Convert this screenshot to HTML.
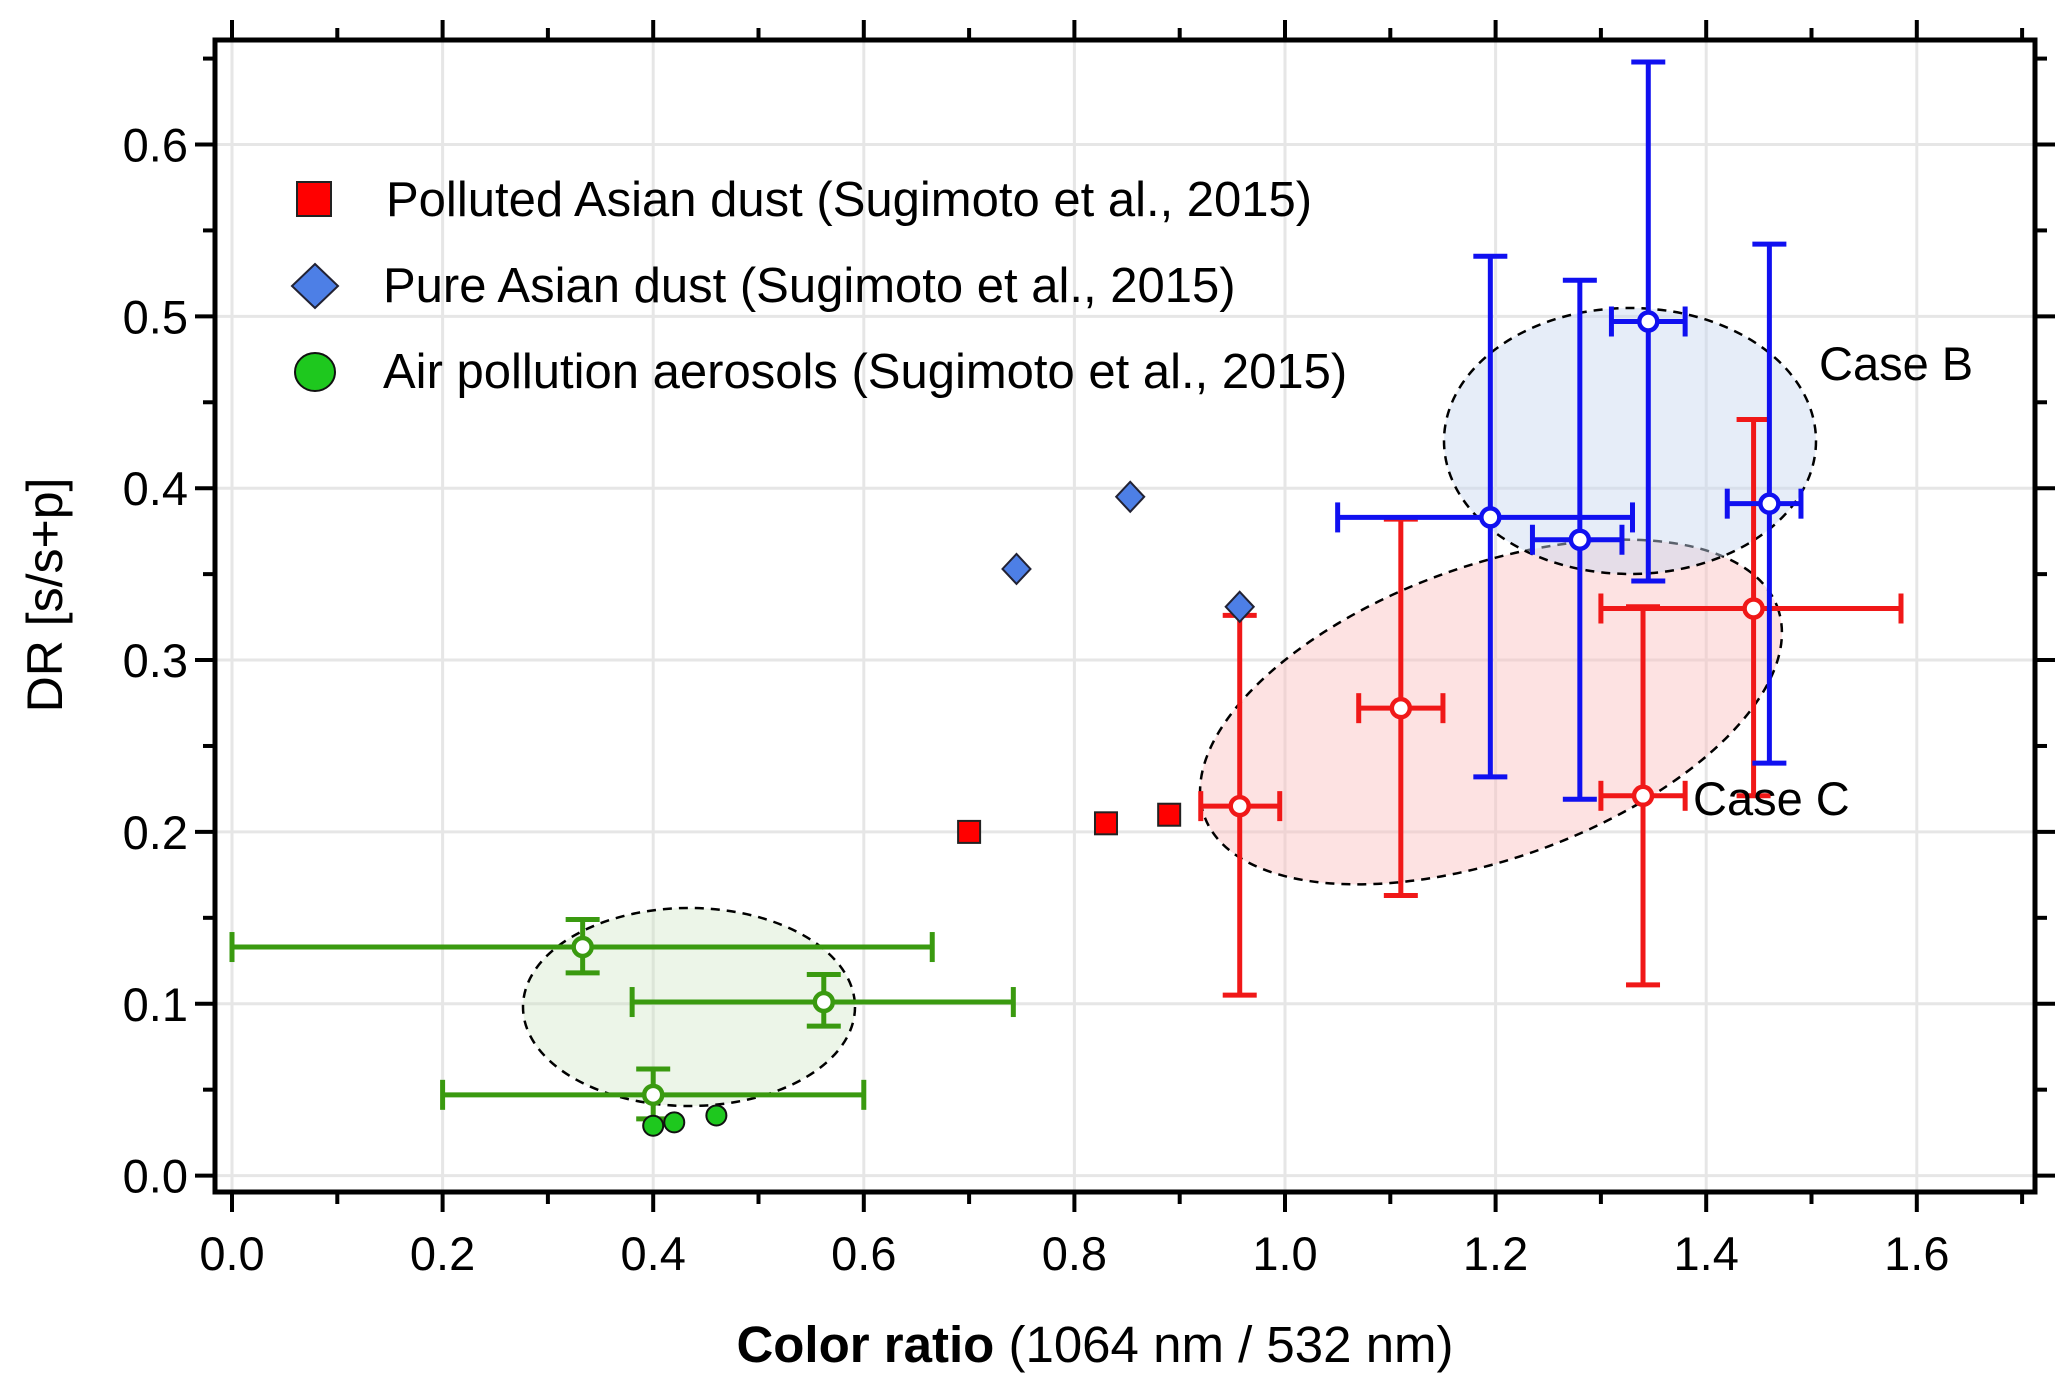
<!DOCTYPE html>
<html><head><meta charset="utf-8"><style>
html,body{margin:0;padding:0;background:#fff;}
svg{display:block;font-family:"Liberation Sans",Arial,sans-serif;}
</style></head><body>
<svg id="chart" width="2067" height="1385" viewBox="0 0 2067 1385" xmlns="http://www.w3.org/2000/svg"></svg>
<script>
const xTicks=[0.0,0.2,0.4,0.6,0.8,1.0,1.2,1.4,1.6];
const yTicks=[0.0,0.1,0.2,0.3,0.4,0.5,0.6];
const squaresX=[0.70,0.83,0.89];
const squaresY=[0.20,0.205,0.21];
const diamondsX=[0.745,0.853,0.957];
const diamondsY=[0.353,0.395,0.331];
const dotsX=[0.40,0.42,0.46];
const dotsY=[0.029,0.031,0.035];
const greenX=[0.333,0.562,0.40];
const greenY=[0.133,0.101,0.047];
const greenXlo=[0.0,0.38,0.20];
const greenXhi=[0.665,0.742,0.60];
const greenYlo=[0.118,0.087,0.033];
const greenYhi=[0.149,0.117,0.062];
const redX=[0.957,1.11,1.34,1.445];
const redY=[0.215,0.272,0.221,0.330];
const redXlo=[0.92,1.07,1.30,1.30];
const redXhi=[0.995,1.15,1.38,1.585];
const redYlo=[0.105,0.163,0.111,0.221];
const redYhi=[0.326,0.382,0.331,0.440];
const blueX=[1.195,1.28,1.345,1.46];
const blueY=[0.383,0.370,0.497,0.391];
const blueXlo=[1.05,1.235,1.31,1.42];
const blueXhi=[1.33,1.32,1.38,1.49];
const blueYlo=[0.232,0.219,0.346,0.240];
const blueYhi=[0.535,0.521,0.648,0.542];

const NS="http://www.w3.org/2000/svg";
const svg=document.getElementById('chart');
const L=215,R=2035,T=40,B=1192;
function sx(v){return 232+v*1053;}
function sy(v){return 1175.6-v*1718.5;}
function el(tag,attrs,parent){const e=document.createElementNS(NS,tag);for(const k in attrs)e.setAttribute(k,attrs[k]);(parent||svg).appendChild(e);return e;}

const grid=el('g',{});


xTicks.forEach(v=>el('line',{x1:sx(v),x2:sx(v),y1:T,y2:B,stroke:'#e6e6e6','stroke-width':3},grid));
yTicks.forEach(v=>el('line',{x1:L,x2:R,y1:sy(v),y2:sy(v),stroke:'#e6e6e6','stroke-width':3},grid));

const ells=[[689,1007,166,99,0,'rgba(200,225,190,0.35)','green-cluster-ellipse'],[1491,712,305,146,-20,'rgba(250,190,190,0.45)','case-c-ellipse'],[1630,441,186,133,0,'rgba(200,215,240,0.45)','case-b-ellipse']];
ells.forEach(e=>{const n=el('ellipse',{cx:e[0],cy:e[1],rx:e[2],ry:e[3],transform:`rotate(${e[4]} ${e[0]} ${e[1]})`,fill:e[5],stroke:'#000','stroke-width':2.5,'stroke-dasharray':'9,7'});

});

const ax=el('g',{});


el('rect',{x:L,y:T,width:R-L,height:B-T,fill:'none',stroke:'#000','stroke-width':5},ax);
for(let i=0;i<=17;i++){const v=i*0.1;const x=sx(v);const len=i%2==0?20:12;
el('line',{x1:x,x2:x,y1:B,y2:B+len,stroke:'#000','stroke-width':4},ax);
el('line',{x1:x,x2:x,y1:T,y2:T-len,stroke:'#000','stroke-width':4},ax);}
for(let i=0;i<=13;i++){const v=i*0.05;const y=sy(v);if(y<T)continue;const len=i%2==0?20:12;
el('line',{x1:L,x2:L-len,y1:y,y2:y,stroke:'#000','stroke-width':4},ax);
el('line',{x1:R,x2:R+len,y1:y,y2:y,stroke:'#000','stroke-width':4},ax);}
xTicks.forEach(v=>{const t=el('text',{x:sx(v),y:1270,'text-anchor':'middle','font-size':47},ax);t.textContent=v.toFixed(1);

});
yTicks.forEach(v=>{const t=el('text',{x:188,y:sy(v)+17,'text-anchor':'end','font-size':47},ax);t.textContent=v.toFixed(1);

});

function errSeries(X,Y,XL,XH,YL,YH,color,name){
const g=el('g',{});


for(let i=0;i<X.length;i++){const x=sx(X[i]),y=sy(Y[i]);
el('line',{x1:sx(XL[i]),x2:sx(XH[i]),y1:y,y2:y,stroke:color,'stroke-width':5},g);
el('line',{x1:x,x2:x,y1:sy(YL[i]),y2:sy(YH[i]),stroke:color,'stroke-width':5},g);
[XL[i],XH[i]].forEach(v=>el('line',{x1:sx(v),x2:sx(v),y1:y-15,y2:y+15,stroke:color,'stroke-width':5},g));
[YL[i],YH[i]].forEach(v=>el('line',{x1:x-17,x2:x+17,y1:sy(v),y2:sy(v),stroke:color,'stroke-width':5},g));
const c=el('circle',{cx:x,cy:y,r:9,fill:'#fff',stroke:color,'stroke-width':4.5},g);

}}
errSeries(greenX,greenY,greenXlo,greenXhi,greenYlo,greenYhi,'#3a9a10','green-series');
errSeries(redX,redY,redXlo,redXhi,redYlo,redYhi,'#f01818','red-series');
errSeries(blueX,blueY,blueXlo,blueXhi,blueYlo,blueYhi,'#1010f0','blue-series');

for(let i=0;i<squaresX.length;i++){const r=el('rect',{x:sx(squaresX[i])-11,y:sy(squaresY[i])-11,width:22,height:22,fill:'#f00',stroke:'#222','stroke-width':2});

}
for(let i=0;i<diamondsX.length;i++){const x=sx(diamondsX[i]),y=sy(diamondsY[i]);const p=el('polygon',{points:`${x},${y-15} ${x+14},${y} ${x},${y+15} ${x-14},${y}`,fill:'#4d7fe6',stroke:'#223','stroke-width':2});

}
for(let i=0;i<dotsX.length;i++){const c=el('circle',{cx:sx(dotsX[i]),cy:sy(dotsY[i]),r:10,fill:'#1ec81e',stroke:'#111','stroke-width':2});

}

const lg=el('g',{});


el('rect',{x:297,y:182,width:34,height:34,fill:'#f00',stroke:'#222','stroke-width':2},lg);
el('polygon',{points:'315,264 338,286 315,308 292,286',fill:'#4d7fe6',stroke:'#223','stroke-width':2},lg);
el('ellipse',{cx:315,cy:372,rx:20,ry:19,fill:'#1ec81e',stroke:'#111','stroke-width':2},lg);
[['Polluted Asian dust (Sugimoto et al., 2015)',386,216],['Pure Asian dust (Sugimoto et al., 2015)',383,302],['Air pollution aerosols (Sugimoto et al., 2015)',383,388]].forEach(a=>{const t=el('text',{x:a[1],y:a[2],'font-size':49},lg);t.textContent=a[0];

});

const cb=el('text',{x:1819,y:380,'font-size':47});cb.textContent='Case B';


const cc=el('text',{x:1693,y:815,'font-size':47});cc.textContent='Case  C';



const xt=el('text',{x:1095,y:1362,'text-anchor':'middle','font-size':51});


const b1=el('tspan',{'font-weight':'bold'},xt);b1.textContent='Color ratio';
const b2=el('tspan',{},xt);b2.textContent='  (1064 nm / 532 nm)';
const yt=el('text',{x:0,y:0,'text-anchor':'middle','font-size':50,transform:'translate(62,595) rotate(-90)'});yt.textContent='DR [s/s+p]';


</script>
</body></html>
